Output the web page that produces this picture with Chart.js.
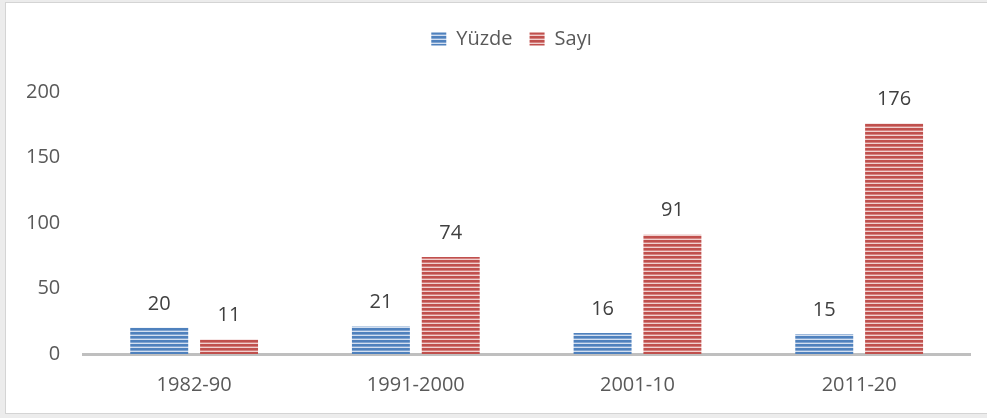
<!DOCTYPE html>
<html>
<head>
<meta charset="utf-8">
<script src="https://cdn.jsdelivr.net/npm/chart.js@4"></script>
<style>
  html, body { margin: 0; padding: 0; background: #ececec; overflow: hidden; }
  #frame {
    position: absolute; left: 5px; top: 2px; width: 1010px; height: 410px;
    background: #fff; border: 1px solid #d4d4d4;
  }
  #wrap { position: absolute; left: 0; top: 0; width: 987px; height: 418px; }
</style>
</head>
<body>
<div id="frame"></div>
<div id="wrap"><canvas id="myChart" width="987" height="418"></canvas></div>
<script>
// values
const categories = ['1982-90', '1991-2000', '2001-10', '2011-20'];
const yuzde = [20, 21, 16, 15];
const sayi = [11, 74, 91, 176];
const yTicks = [0, 50, 100, 150, 200];

// horizontal stripe fill like the Excel pattern
function stripes(dark, mid, light) {
  const c = document.createElement('canvas');
  c.width = 8; c.height = 4;
  const g = c.getContext('2d');
  g.fillStyle = dark; g.fillRect(0, 0, 8, 2);
  g.fillStyle = mid; g.fillRect(0, 2, 8, 1);
  g.fillStyle = light; g.fillRect(0, 3, 8, 1);
  return g.createPattern(c, 'repeat');
}
const ctx0 = document.getElementById('myChart').getContext('2d');
const bluePat = stripes('#4f81bd', '#7fa3d0', '#d3dff0');
const redPat = stripes('#c0504d', '#d4807e', '#f0d0cf');

const barLabels = {
  id: 'barLabels',
  afterDatasetsDraw(chart) {
    const ctx = chart.ctx;
    ctx.save();
    ctx.font = '20px "Open Sans"';
    ctx.fillStyle = '#404040';
    ctx.textAlign = 'center';
    ctx.textBaseline = 'middle';
    chart.data.datasets.forEach((ds, i) => {
      chart.getDatasetMeta(i).data.forEach((bar, j) => {
        ctx.fillText(ds.data[j], bar.x, bar.y - 24);
      });
    });
    ctx.restore();
  }
};

// extra room under the legend, and nudge it right a little
const legendSpace = {
  id: 'legendSpace',
  beforeInit(chart) {
    const fit = chart.legend.fit;
    chart.legend.fit = function () {
      fit.call(this);
      this.height += 33;
    };
  },
  afterLayout(chart) {
    chart.legend.left += 25;
    chart.legend.right += 25;
  }
};

Chart.defaults.font.family = '"Open Sans"';
Chart.defaults.color = '#595959';

new Chart(ctx0, {
  type: 'bar',
  data: {
    labels: categories,
    datasets: [
      { label: 'Yüzde', data: yuzde, backgroundColor: bluePat, borderWidth: 0,
        categoryPercentage: 0.63, barPercentage: 0.83 },
      { label: 'Sayı', data: sayi, backgroundColor: redPat, borderWidth: 0,
        categoryPercentage: 0.63, barPercentage: 0.83 }
    ]
  },
  options: {
    responsive: false,
    animation: false,
    layout: { padding: { left: 3, right: 17, top: 12, bottom: 2 } },
    plugins: {
      tooltip: { enabled: false },
      legend: {
        position: 'top',
        labels: { boxWidth: 15, boxHeight: 13, font: { size: 20 }, padding: 17, color: '#595959' }
      }
    },
    scales: {
      x: {
        grid: { display: false, drawTicks: false },
        border: { color: '#bfbfbf', width: 3 },
        ticks: { font: { size: 20 }, padding: 19, color: '#595959' }
      },
      y: {
        min: 0, max: 200,
        afterBuildTicks(axis) { axis.ticks = yTicks.map(v => ({ value: v })); },
        grid: { display: false, drawTicks: false },
        border: { display: false },
        ticks: { font: { size: 20 }, padding: 23, color: '#595959' }
      }
    }
  },
  plugins: [legendSpace, barLabels]
});
</script>
</body>
</html>
